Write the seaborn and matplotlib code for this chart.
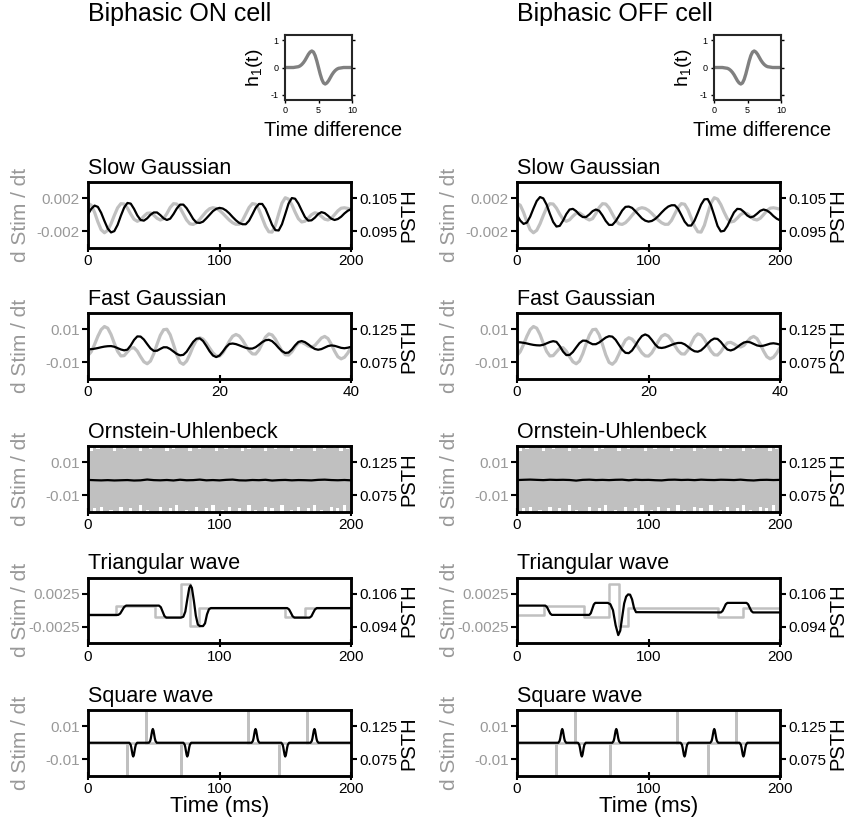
import numpy as np
import matplotlib
matplotlib.use("Agg")
import matplotlib.pyplot as plt
import seaborn as sns

sns.set_style("ticks")
plt.rcParams['font.family'] = ['Liberation Sans', 'DejaVu Sans']
plt.rcParams['mathtext.fontset'] = 'custom'
plt.rcParams['mathtext.rm'] = 'Liberation Sans'
plt.rcParams['text.color'] = 'black'
plt.rcParams['axes.labelcolor'] = 'black'
plt.rcParams['xtick.color'] = 'black'
plt.rcParams['ytick.color'] = 'black'

STIM_GRAY = '#c0c0c0'
LABEL_GRAY = '#999999'

# filter h1(t) shown in the insets
h_t = np.linspace(0, 10, 41)
h_on = [0, 0, 0, 0, 0, 0, 0.01, 0.02, 0.03, 0.06, 0.11, 0.18, 0.27, 0.38, 0.49, 0.57, 0.61, 0.57, 0.44, 0.24,
        0, -0.24, -0.44, -0.57, -0.61, -0.57, -0.49, -0.38, -0.27, -0.18, -0.11, -0.06, -0.03, -0.02, -0.01,
        0, 0, 0, 0, 0, 0]
h_off = [0, 0, 0, 0, 0, 0, -0.01, -0.02, -0.03, -0.06, -0.11, -0.18, -0.27, -0.38, -0.49, -0.57, -0.61, -0.57, -0.44, -0.24,
         0, 0.24, 0.44, 0.57, 0.61, 0.57, 0.49, 0.38, 0.27, 0.18, 0.11, 0.06, 0.03, 0.02, 0.01,
         0, 0, 0, 0, 0, 0]

# slow gaussian (2.5 ms grid)
slow_t = np.linspace(0, 200, 81)
slow_stim = [0.0014, 0.00116, 0.00029, -0.00087, -0.00183, -0.0022, -0.0019, -0.00111, -0.00009, 0.00084,
             0.00135, 0.00131, 0.00081, 0.00008, -0.00055, -0.0008, -0.00061, -0.00018, 0.00018, 0.00022,
             -0.00005, -0.00043, -0.00064, -0.00047, 0.00015, 0.00089, 0.00135, 0.00131, 0.00084, 0.0001,
             -0.00064, -0.00111, -0.00118, -0.00097, -0.00056, -0.00007, 0.0004, 0.00074, 0.00086, 0.00077,
             0.00053, 0.00017, -0.00025, -0.00066, -0.00098, -0.00117, -0.00116, -0.00069, 0.0001, 0.00089,
             0.00136, 0.00128, 0.00062, -0.0004, -0.00142, -0.00208, -0.00212, -0.00129, 0.0001, 0.00142,
             0.00208, 0.00191, 0.00124, 0.00032, -0.00049, -0.00088, -0.00079, -0.00041, 0.00001, 0.00024,
             0.00014, -0.0002, -0.00054, -0.00064, -0.00043, 0.00001, 0.00048, 0.0008, 0.00085, 0.00078,
             0.00066]
slow_on = [0.1001, 0.1018, 0.1028, 0.1024, 0.1006, 0.0981, 0.0958, 0.0946, 0.0950, 0.0969,
           0.0997, 0.1022, 0.1036, 0.1034, 0.1018, 0.0998, 0.0984, 0.0982, 0.0989, 0.1000,
           0.1007, 0.1007, 0.0999, 0.0989, 0.0984, 0.0988, 0.1002, 0.1019, 0.1031, 0.1031,
           0.1020, 0.1004, 0.0987, 0.0976, 0.0975, 0.0979, 0.0989, 0.1000, 0.1011, 0.1018,
           0.1021, 0.1019, 0.1013, 0.1004, 0.0993, 0.0983, 0.0975, 0.0971, 0.0971, 0.0982,
           0.1001, 0.1021, 0.1033, 0.1033, 0.1018, 0.0994, 0.0969, 0.0953, 0.0952, 0.0971,
           0.1002, 0.1034, 0.1051, 0.1049, 0.1034, 0.1013, 0.0993, 0.0982, 0.0983, 0.0991,
           0.1002, 0.1008, 0.1005, 0.0997, 0.0988, 0.0984, 0.0987, 0.0994, 0.1004, 0.1012,
           0.1017]
slow_off = [0.0999, 0.0982, 0.0972, 0.0976, 0.0994, 0.1019, 0.1042, 0.1054, 0.1050, 0.1031,
            0.1003, 0.0978, 0.0964, 0.0966, 0.0982, 0.1002, 0.1016, 0.1018, 0.1011, 0.1000,
            0.0993, 0.0993, 0.1001, 0.1011, 0.1016, 0.1012, 0.0998, 0.0981, 0.0969, 0.0969,
            0.0980, 0.0996, 0.1013, 0.1024, 0.1025, 0.1021, 0.1011, 0.1000, 0.0989, 0.0982,
            0.0979, 0.0981, 0.0987, 0.0996, 0.1007, 0.1017, 0.1025, 0.1029, 0.1029, 0.1018,
            0.0999, 0.0979, 0.0967, 0.0967, 0.0982, 0.1006, 0.1031, 0.1047, 0.1048, 0.1029,
            0.0998, 0.0966, 0.0949, 0.0951, 0.0966, 0.0987, 0.1007, 0.1018, 0.1017, 0.1009,
            0.0998, 0.0992, 0.0995, 0.1003, 0.1012, 0.1016, 0.1013, 0.1006, 0.0996, 0.0988,
            0.0983]

# fast gaussian (0.5 ms grid)
fast_t = np.linspace(0, 40, 81)
fast_stim = [-0.0060, -0.00357, 0.0008, 0.00577, 0.00984, 0.01175, 0.01075, 0.0069, 0.00155, -0.00341,
             -0.00623, -0.00604, -0.00375, -0.00147, -0.0012, -0.0033, -0.00671, -0.00977, -0.011, -0.00937,
             -0.00494, 0.0009, 0.00638, 0.0098, 0.01008, 0.00672, 0.00081, -0.00556, -0.01016, -0.01134,
             -0.00936, -0.00519, -0.00035, 0.00346, 0.0049, 0.00403, 0.00167, -0.00144, -0.00436, -0.00618,
             -0.00632, -0.0044, -0.00097, 0.00285, 0.0058, 0.0069, 0.00597, 0.00345, 0.00012, -0.00301,
             -0.00496, -0.00506, -0.00263, 0.00143, 0.0053, 0.00724, 0.0066, 0.0040, 0.00032, -0.00325,
             -0.0055, -0.0057, -0.00369, -0.00059, 0.00176, 0.0021, 0.00111, -0.0002, -0.0008, 0.00015,
             0.00245, 0.00475, 0.0057, 0.0044, 0.00097, -0.00327, -0.0067, -0.008, -0.00706, -0.0045,
             -0.001]
fast_on = [0.0945, 0.0948, 0.0955, 0.0965, 0.0977, 0.0987, 0.0993, 0.0995, 0.0985, 0.0964,
           0.0943, 0.0930, 0.0941, 0.1005, 0.1088, 0.1143, 0.1140, 0.1095, 0.1026, 0.0960,
           0.0922, 0.0924, 0.0952, 0.0977, 0.0976, 0.0950, 0.0912, 0.0875, 0.0854, 0.0861,
           0.0909, 0.0985, 0.1060, 0.1108, 0.1113, 0.1072, 0.0997, 0.0915, 0.0851, 0.0827,
           0.0850, 0.0910, 0.0979, 0.1027, 0.1034, 0.1025, 0.1007, 0.0987, 0.0968, 0.0957,
           0.0957, 0.0978, 0.1015, 0.1055, 0.1084, 0.1091, 0.1070, 0.1024, 0.0967, 0.0918,
           0.0890, 0.0896, 0.0942, 0.1006, 0.1058, 0.1072, 0.1055, 0.1021, 0.0982, 0.0951,
           0.0939, 0.0949, 0.0972, 0.0995, 0.1005, 0.0999, 0.0984, 0.0968, 0.0962, 0.0970,
           0.0983]
fast_off = [0.1055, 0.1052, 0.1045, 0.1035, 0.1023, 0.1013, 0.1007, 0.1005, 0.1015, 0.1036,
            0.1057, 0.1070, 0.1059, 0.0995, 0.0912, 0.0857, 0.0860, 0.0905, 0.0974, 0.1040,
            0.1078, 0.1076, 0.1048, 0.1023, 0.1024, 0.1050, 0.1088, 0.1125, 0.1146, 0.1139,
            0.1091, 0.1015, 0.0940, 0.0892, 0.0887, 0.0928, 0.1003, 0.1085, 0.1149, 0.1173,
            0.1150, 0.1090, 0.1021, 0.0973, 0.0966, 0.0975, 0.0993, 0.1013, 0.1032, 0.1043,
            0.1043, 0.1022, 0.0985, 0.0945, 0.0916, 0.0909, 0.0930, 0.0976, 0.1033, 0.1082,
            0.1110, 0.1104, 0.1058, 0.0994, 0.0942, 0.0928, 0.0945, 0.0979, 0.1018, 0.1049,
            0.1061, 0.1051, 0.1028, 0.1005, 0.0995, 0.1001, 0.1016, 0.1032, 0.1038, 0.1030,
            0.1017]

# Ornstein-Uhlenbeck: stimulus envelope (2.5 ms) and PSTH (5 ms)
ou_t = np.linspace(0, 200, 81)
ou_hi = [0.03, 0.017, 0.03, 0.018, 0.03, 0.03, 0.019, 0.03, 0.017, 0.03,
         0.03, 0.018, 0.03, 0.03, 0.019, 0.03, 0.017, 0.03, 0.03, 0.018,
         0.03, 0.019, 0.03, 0.03, 0.017, 0.03, 0.018, 0.03, 0.03, 0.019,
         0.03, 0.017, 0.03, 0.03, 0.018, 0.03, 0.019, 0.03, 0.03, 0.017,
         0.03, 0.03, 0.018, 0.03, 0.019, 0.03, 0.03, 0.017, 0.03, 0.018,
         0.03, 0.03, 0.019, 0.03, 0.017, 0.03, 0.03, 0.018, 0.03, 0.019,
         0.03, 0.03, 0.017, 0.03, 0.018, 0.03, 0.03, 0.019, 0.03, 0.017,
         0.03, 0.03, 0.018, 0.03, 0.03, 0.019, 0.03, 0.017, 0.03, 0.018,
         0.03]
ou_lo = [-0.03, -0.03, -0.018, -0.03, -0.017, -0.03, -0.03, -0.019, -0.03, -0.03,
         -0.017, -0.03, -0.03, -0.018, -0.03, -0.03, -0.016, -0.03, -0.019, -0.03,
         -0.03, -0.03, -0.017, -0.03, -0.03, -0.018, -0.03, -0.016, -0.03, -0.03,
         -0.019, -0.03, -0.03, -0.017, -0.03, -0.03, -0.018, -0.03, -0.016, -0.03,
         -0.03, -0.019, -0.03, -0.017, -0.03, -0.03, -0.018, -0.03, -0.03, -0.016,
         -0.03, -0.019, -0.03, -0.03, -0.017, -0.03, -0.018, -0.03, -0.03, -0.016,
         -0.03, -0.03, -0.019, -0.03, -0.017, -0.03, -0.03, -0.018, -0.03, -0.016,
         -0.03, -0.019, -0.03, -0.03, -0.017, -0.03, -0.018, -0.03, -0.016, -0.03,
         -0.03]
ou_bt = np.linspace(0, 200, 41)
ou_on = [0.0982, 0.0978, 0.0975, 0.0979, 0.0974, 0.0977, 0.0980, 0.0973, 0.0976, 0.0988,
         0.0979, 0.0976, 0.0981, 0.0974, 0.0985, 0.0977, 0.0979, 0.0987, 0.0976, 0.0980,
         0.0975, 0.0983, 0.0987, 0.0976, 0.0974, 0.0981, 0.0978, 0.0984, 0.0973, 0.0979,
         0.0982, 0.0976, 0.0980, 0.0978, 0.0975, 0.0983, 0.0986, 0.0980, 0.0977, 0.0981,
         0.0976]
ou_off = [0.0980, 0.0984, 0.0987, 0.0983, 0.0979, 0.0985, 0.0982, 0.0984, 0.0981, 0.0972,
          0.0983, 0.0986, 0.0980, 0.0983, 0.0979, 0.0984, 0.0986, 0.0977, 0.0985, 0.0981,
          0.0983, 0.0978, 0.0975, 0.0984, 0.0986, 0.0981, 0.0984, 0.0979, 0.0986, 0.0982,
          0.0980, 0.0985, 0.0983, 0.0980, 0.0986, 0.0978, 0.0974, 0.0982, 0.0984, 0.0980,
          0.0983]

# triangular wave: stimulus steps and PSTH
tri_lvl = [-0.0007, -0.0007, 0.0007, 0.0007, -0.0011, -0.0011, 0.004, 0.004,
           -0.0024, -0.0024, 0.0003, 0.0003, -0.0011, -0.0011, 0.0003, 0.0003]
tri_on_st = [0, 21, 21, 50.6, 50.6, 70.4, 70.4, 77.5, 77.5, 84.3, 84.3, 150, 150, 165, 165, 200]
tri_off_st = [0, 20.6, 20.6, 50.8, 50.8, 70, 70, 77.2, 77.2, 84.3, 84.3, 152.7, 152.7, 172, 172, 200]
tri_on_t = [0, 23, 24.5, 26, 27.5, 29, 54, 55.4, 56.75, 58.1, 59.5,
            70.5, 72.5, 74, 75.5, 77, 78, 79, 80.5, 82, 83.5, 85, 87.5, 89, 90.5, 92, 93.5,
            151.5, 152.9, 154.25, 155.6, 157, 168.5, 169.9, 171.25, 172.6, 174, 200]
tri_on = [0.0983, 0.0983, 0.0988, 0.1000, 0.1012, 0.1017, 0.1017, 0.1011, 0.0995, 0.0979, 0.0973,
          0.0973, 0.0976, 0.0995, 0.1040, 0.1082, 0.1091, 0.1082, 0.1035, 0.0980, 0.0948, 0.0942,
          0.0942, 0.0952, 0.0985, 0.1004, 0.1008,
          0.1008, 0.1003, 0.0991, 0.0978, 0.0973, 0.0973, 0.0978, 0.0991, 0.1003, 0.1008, 0.1008]
tri_off_t = [0, 21.5, 22.75, 24, 25.25, 26.5, 55, 56.1, 57.25, 58.4, 59.5,
             69, 71, 73, 75, 77, 78.5, 80, 81.5, 83, 84.5, 86, 87.5, 89, 90.5,
             155, 156.25, 157.5, 158.75, 160, 174.5, 175.75, 177, 178.25, 179.5, 200]
tri_off = [0.1017, 0.1017, 0.1012, 0.1000, 0.0988, 0.0983, 0.0983, 0.0989, 0.1005, 0.1021, 0.1027,
           0.1027, 0.1022, 0.1000, 0.0945, 0.0909, 0.0925, 0.0975, 0.1025, 0.1050, 0.1058, 0.1057,
           0.1040, 0.1008, 0.0993,
           0.0992, 0.0997, 0.1009, 0.1022, 0.1027, 0.1027, 0.1022, 0.1009, 0.0997, 0.0992, 0.0992]

# square wave: stimulus derivative spikes and PSTH bumps
sq_st = [0, 29.5, 29.5, 29.5, 44.3, 44.3, 44.3, 70.5, 70.5, 70.5,
         122, 122, 122, 145, 145, 145, 166.6, 166.6, 166.6, 200]
sq_sv = [0, 0, -0.03, 0, 0, 0.03, 0, 0, -0.03, 0,
         0, 0.03, 0, 0, -0.03, 0, 0, 0.03, 0, 0]
sq_t = [0,
        31.4, 32.4, 32.9, 33.4, 33.9, 34.4, 34.9, 35.4, 35.9, 36.4, 37.4,
        46.3, 47.3, 47.8, 48.3, 48.8, 49.3, 49.8, 50.3, 50.8, 51.3, 52.3,
        72.5, 73.5, 74.0, 74.5, 75.0, 75.5, 76.0, 76.5, 77.0, 77.5, 78.5,
        124.4, 125.4, 125.9, 126.4, 126.9, 127.4, 127.9, 128.4, 128.9, 129.4, 130.4,
        147.0, 148.0, 148.5, 149.0, 149.5, 150.0, 150.5, 151.0, 151.5, 152.0, 153.0,
        169.2, 170.2, 170.7, 171.2, 171.7, 172.2, 172.7, 173.2, 173.7, 174.2, 175.2,
        200]
bump_dn = [0.1, 0.0972, 0.0931, 0.0872, 0.0815, 0.079, 0.0815, 0.0872, 0.0931, 0.0972, 0.1]
bump_up = [0.1, 0.1028, 0.1069, 0.1128, 0.1185, 0.121, 0.1185, 0.1128, 0.1069, 0.1028, 0.1]
sq_on = [0.1] + bump_dn + bump_up + bump_dn + bump_up + bump_dn + bump_up + [0.1]
sq_off = [0.1] + bump_up + bump_dn + bump_up + bump_dn + bump_up + bump_dn + [0.1]

fig = plt.figure(figsize=(8.47, 8.23), dpi=100)
FW, FH = 847, 823
col_left = [88, 517]
row_top = [182, 313, 446, 577.5, 710]
pw, ph = 263, 65.5


def line(ax, x, y, color, lw):
    sns.lineplot(x=x, y=y, ax=ax, color=color, linewidth=lw, sort=False,
                 estimator=None, legend=False)


def style(ax, ax2, title, xmax, xticks, ylim, ylabels, plim, plabels):
    ax.set_xlim(0, xmax)
    ax.set_xticks(xticks)
    ax.set_xticklabels([str(v) for v in xticks])
    ax.set_ylim(-ylim, ylim)
    ax.set_yticks([-ylim / 2, ylim / 2])
    ax.set_yticklabels(ylabels)
    ax2.set_ylim(*plim)
    ax2.set_yticks([(3 * plim[0] + plim[1]) / 4, (plim[0] + 3 * plim[1]) / 4])
    ax2.set_yticklabels(plabels)
    ax.tick_params(axis='x', direction='inout', length=6, width=1.5, labelsize=11, pad=2)
    ax.tick_params(axis='y', direction='out', length=4, width=1.5, labelsize=11,
                   labelcolor=LABEL_GRAY, pad=2)
    ax2.tick_params(axis='y', direction='out', length=4, width=1.5, labelsize=11, pad=2)
    for a in (ax, ax2):
        for sp in a.spines.values():
            sp.set_visible(True)
            sp.set_linewidth(1.8)
            sp.set_color('black')
    ax.set_xlabel('')
    ax.set_ylabel('d Stim / dt', fontsize=15, color=LABEL_GRAY)
    ax.yaxis.set_label_coords(-0.22, 0.5)
    ax2.set_ylabel('PSTH', fontsize=14.5)
    ax2.yaxis.set_label_coords(1.185, 0.5)
    ax.set_title(title, loc='left', fontsize=15.5, pad=6)


cells = ['Biphasic ON cell', 'Biphasic OFF cell']
for c in range(2):
    x0 = col_left[c]
    axes = []
    for r in range(5):
        ax = fig.add_axes([x0 / FW, 1 - (row_top[r] + ph) / FH, pw / FW, ph / FH])
        ax2 = ax.twinx()
        axes.append((ax, ax2))

    # slow gaussian
    ax, ax2 = axes[0]
    line(ax, slow_t, slow_stim, STIM_GRAY, 2.3)
    line(ax2, slow_t, [slow_on, slow_off][c], 'black', 1.6)
    style(ax, ax2, 'Slow Gaussian', 200, [0, 100, 200], 0.004, ['-0.002', '0.002'],
          (0.09, 0.11), ['0.095', '0.105'])

    # fast gaussian
    ax, ax2 = axes[1]
    line(ax, fast_t, fast_stim, STIM_GRAY, 2.3)
    line(ax2, fast_t, [fast_on, fast_off][c], 'black', 1.6)
    style(ax, ax2, 'Fast Gaussian', 40, [0, 20, 40], 0.02, ['-0.01', '0.01'],
          (0.05, 0.15), ['0.075', '0.125'])

    # OU
    ax, ax2 = axes[2]
    ax.fill_between(ou_t, ou_lo, ou_hi, step='mid', color=STIM_GRAY, linewidth=0)
    line(ax2, ou_bt, [ou_on, ou_off][c], 'black', 1.6)
    style(ax, ax2, 'Ornstein-Uhlenbeck', 200, [0, 100, 200], 0.02, ['-0.01', '0.01'],
          (0.05, 0.15), ['0.075', '0.125'])

    # triangular wave
    ax, ax2 = axes[3]
    line(ax, [tri_on_st, tri_off_st][c], tri_lvl, STIM_GRAY, 1.8)
    line(ax2, [tri_on_t, tri_off_t][c], [tri_on, tri_off][c], 'black', 1.6)
    style(ax, ax2, 'Triangular wave', 200, [0, 100, 200], 0.005, ['-0.0025', '0.0025'],
          (0.088, 0.112), ['0.094', '0.106'])

    # square wave
    ax, ax2 = axes[4]
    line(ax, sq_st, sq_sv, STIM_GRAY, 1.8)
    line(ax2, sq_t, [sq_on, sq_off][c], 'black', 1.6)
    style(ax, ax2, 'Square wave', 200, [0, 100, 200], 0.02, ['-0.01', '0.01'],
          (0.05, 0.15), ['0.075', '0.125'])
    ax.set_xlabel('Time (ms)', fontsize=16, labelpad=0)

    # cell title and filter inset
    fig.text(x0 / FW, 1 - 21 / FH, cells[c], fontsize=18, va='baseline', ha='left')
    ins = fig.add_axes([(x0 + pw - 66) / FW, 1 - 100 / FH, 67 / FW, 65 / FH])
    line(ins, h_t, [h_on, h_off][c], '#808080', 2.4)
    ins.set_xlim(0, 10)
    ins.set_ylim(-1.2, 1.2)
    ins.set_xticks([0, 5, 10])
    ins.set_yticks([-1, 0, 1])
    ins.set_yticklabels(['-1', '0', '1'])
    ins.tick_params(labelsize=6.5, length=2.5, width=1, pad=2, right=True)
    for sp in ins.spines.values():
        sp.set_visible(True)
        sp.set_linewidth(1.5)
    ins.set_ylabel(r'$\mathregular{h_1(t)}$', fontsize=14)
    ins.yaxis.set_label_coords(-0.3, 0.5)
    ins.set_xlabel('Time difference', fontsize=14.5, labelpad=4)
    ins.xaxis.set_label_coords(0.72, -0.33)
    ins.xaxis.label.set_va('top')

fig.savefig('out.png', dpi=100)
